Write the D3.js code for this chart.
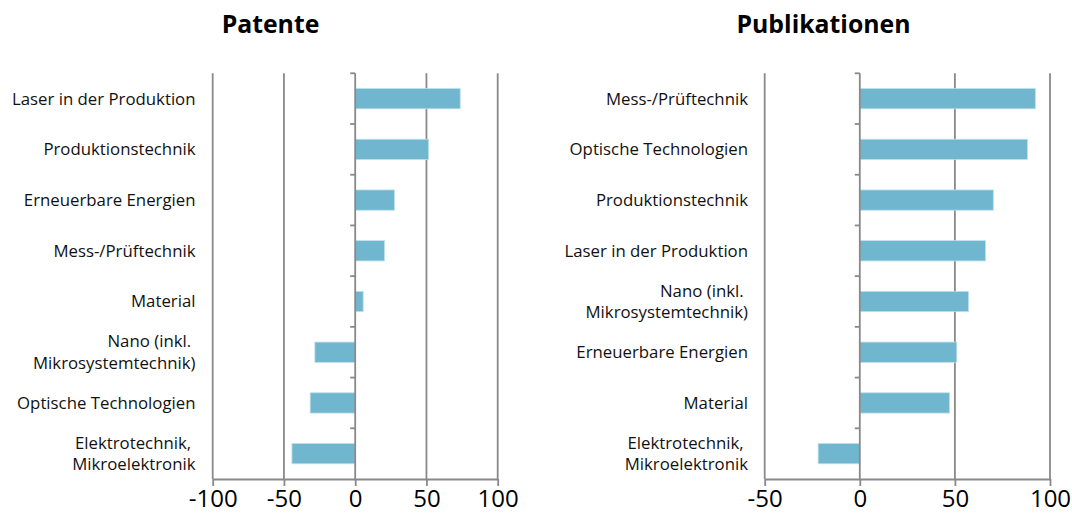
<!DOCTYPE html>
<html><head><meta charset="utf-8">
<script src="https://cdn.jsdelivr.net/npm/d3@7"></script>
<style>body{margin:0;background:#fff}svg{display:block}text{font-family:"Open Sans",sans-serif}</style>
</head><body><svg id="c" width="1072" height="519"></svg>
<script>
const patentCategories = ["Laser in der Produktion","Produktionstechnik","Erneuerbare Energien","Mess-/Prüftechnik","Material","Nano (inkl.|Mikrosystemtechnik)","Optische Technologien","Elektrotechnik,|Mikroelektronik"];
const patentValues = [73.7, 51.5, 27.6, 20.6, 5.6, -28.3, -31.6, -44.4];
const patentTicks = [-100, -50, 0, 50, 100];

const pubCategories = ["Mess-/Prüftechnik","Optische Technologien","Produktionstechnik","Laser in der Produktion","Nano (inkl.|Mikrosystemtechnik)","Erneuerbare Energien","Material","Elektrotechnik,|Mikroelektronik"];
const pubValues = [92.3, 88.2, 70.2, 66.1, 57.2, 51.0, 47.2, -21.9];
const pubTicks = [-50, 0, 50, 100];

const svg = d3.select("#c");
const GRAY = "#898989", BAR = "#70b6ce";

function panel(opt){
  const {title, titleX, cats, vals, ticks, domain, x0, x1, y0, y1, labelX} = opt;
  const g = svg.append("g");
  const x = d3.scaleLinear().domain(domain).range([x0, x1]);
  const y = d3.scaleBand().domain(cats).range([y0, y1]).paddingInner(0.6).paddingOuter(0.3);
  const step = (y1 - y0) / cats.length;

  g.append("text").attr("x", titleX).attr("y", 33).attr("text-anchor","middle")
    .attr("font-size", 24.8).attr("font-weight", "bold").attr("fill","#000").text(title);

  // gridlines
  g.selectAll("line.grid").data(ticks.filter(t => t !== 0)).join("line")
    .attr("x1", d => x(d)).attr("x2", d => x(d)).attr("y1", y0).attr("y2", y1)
    .attr("stroke", GRAY).attr("stroke-width", 1.8);

  // bars
  g.selectAll("rect").data(vals).join("rect")
    .attr("x", (d) => x(Math.min(0, d)))
    .attr("width", d => Math.abs(x(d) - x(0)))
    .attr("y", (d,i) => y(cats[i]))
    .attr("height", y.bandwidth())
    .attr("fill", BAR).attr("stroke", "#bfe0ea").attr("stroke-width", 0.8);

  // bottom axis
  const ax = g.append("g").attr("transform", `translate(0,${y1})`)
    .call(d3.axisBottom(x).tickValues(ticks).tickSize(7).tickSizeOuter(0).tickPadding(4).tickFormat(d => String(d)));
  ax.select(".domain").attr("stroke", GRAY).attr("stroke-width", 1.8);
  ax.selectAll(".tick line").attr("stroke", GRAY).attr("stroke-width", 1.8);
  ax.selectAll(".tick text").attr("font-size", 24).attr("fill", "#000").attr("font-family", '"Open Sans",sans-serif');

  // zero axis with ticks at band boundaries
  g.append("line").attr("x1", x(0)).attr("x2", x(0)).attr("y1", y0).attr("y2", y1)
    .attr("stroke", GRAY).attr("stroke-width", 1.8);
  g.selectAll("line.zt").data(d3.range(cats.length)).join("line")
    .attr("x1", x(0) - 5).attr("x2", x(0)).attr("y1", i => y0 + i*step).attr("y2", i => y0 + i*step)
    .attr("stroke", GRAY).attr("stroke-width", 1.8);

  // category labels
  cats.forEach((c) => {
    const lines = c.split("|");
    const cy = y(c) + y.bandwidth()/2;
    const lh = 21.5;
    const t = g.append("text").attr("text-anchor","end").attr("font-size", 16.8).attr("fill","#111");
    lines.forEach((ln, k) => {
      const txt = (lines.length > 1 && k === 0) ? ln + "\u00a0" : ln;
      t.append("tspan").attr("x", labelX).attr("y", cy + (k - (lines.length-1)/2)*lh).attr("dy","0.35em").text(txt);
    });
  });
}

panel({title:"Patente", titleX:270.5, cats:patentCategories, vals:patentValues, ticks:patentTicks,
  domain:[-100,100], x0:212.7, x1:497.7, y0:73.3, y1:479, labelX:195.5});
panel({title:"Publikationen", titleX:823.5, cats:pubCategories, vals:pubValues, ticks:pubTicks,
  domain:[-50,100], x0:764.7, x1:1050, y0:73.3, y1:479, labelX:748});
</script></body></html>
